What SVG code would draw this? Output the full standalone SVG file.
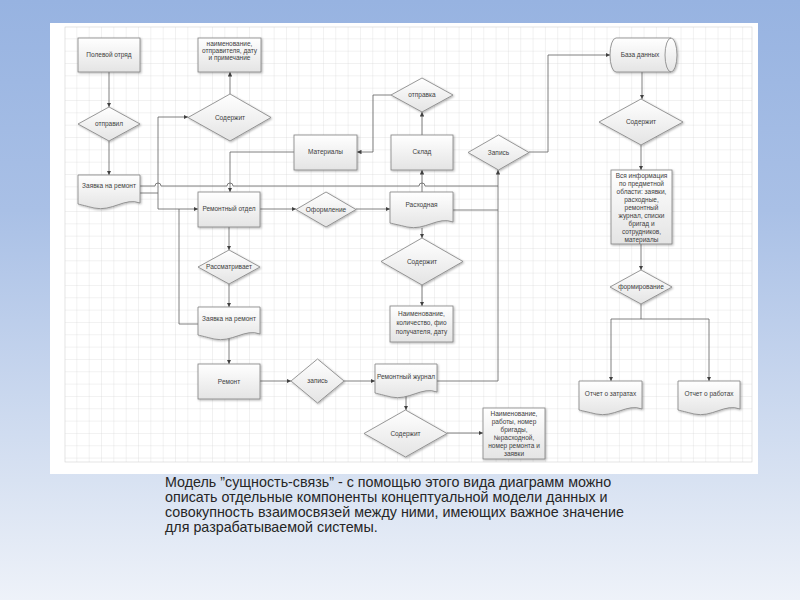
<svg xmlns="http://www.w3.org/2000/svg" width="800" height="600" viewBox="0 0 800 600">
<defs>
<linearGradient id="bg" x1="0" y1="0" x2="0" y2="1">
<stop offset="0" stop-color="#97b3e1"/>
<stop offset="0.35" stop-color="#a9c0e6"/>
<stop offset="0.8" stop-color="#d8e2f2"/>
<stop offset="1" stop-color="#eef2f9"/>
</linearGradient>
<linearGradient id="nf" x1="0" y1="0" x2="0" y2="1">
<stop offset="0" stop-color="#ffffff"/>
<stop offset="1" stop-color="#e4e4e4"/>
</linearGradient>
<pattern id="grid" x="65" y="27" width="12.33" height="12.33" patternUnits="userSpaceOnUse">
<path d="M12.33,0 V12.33 H0" fill="none" stroke="#d2d2d2" stroke-width="0.6"/>
</pattern>
<filter id="sh" x="-20%" y="-20%" width="140%" height="140%">
<feDropShadow dx="1" dy="1" stdDeviation="0.8" flood-color="#000" flood-opacity="0.3"/>
</filter>
<marker id="ar" viewBox="0 0 10 10" refX="10" refY="5" markerWidth="4.5" markerHeight="4.5" orient="auto" markerUnits="userSpaceOnUse">
<path d="M0,0 L10,5 L0,10 Z" fill="#404040"/>
</marker>
<style>
.n{fill:url(#nf);stroke:#808080;stroke-width:0.8;filter:url(#sh)}
.t{font-family:"Liberation Sans",Arial,sans-serif;font-size:6.5px;fill:#404040;text-anchor:middle}
.c{fill:none;stroke:#606060;stroke-width:0.8}
.a{marker-end:url(#ar)}
.cap{font-family:"Liberation Sans",Arial,sans-serif;font-size:14.3px;fill:#262626}
</style>
</defs>
<rect width="800" height="600" fill="url(#bg)"/>
<rect x="50" y="23" width="708" height="451" fill="#ffffff"/>
<rect x="65" y="27" width="687" height="435" fill="url(#grid)" stroke="#d2d2d2" stroke-width="0.6"/>

<g id="connectors">
<path class="c a" d="M109,72 V107"/>
<path class="c a" d="M109,141 V175"/>
<path class="c a" d="M230,94 V72"/>
<path class="c a" d="M140,193 H158 V117 H188"/>
<path class="c a" d="M158,193 V209 H198"/>
<path class="c" d="M198,324 H179 V209"/>
<path class="c" d="M140,186 H155 a3,3 0 0 1 6,0 H227 a3,3 0 0 1 6,0 H419 a3,3 0 0 1 6,0 H498"/>
<path class="c a" d="M294,152 H230 V192"/>
<path class="c a" d="M391,95 H373 V152 H357"/>
<path class="c a" d="M422,135 V112"/>
<path class="c a" d="M422,192 V170"/>
<path class="c a" d="M260,209 H296"/>
<path class="c a" d="M356,209 H390"/>
<path class="c" d="M453,210 H498"/>
<path class="c a" d="M437,381 H498 V170"/>
<path class="c a" d="M529,152 H548 V55 H610"/>
<path class="c a" d="M642,72 V99"/>
<path class="c a" d="M641,145 V170"/>
<path class="c a" d="M641,244 V270"/>
<path class="c" d="M641,304 V319 M611,319 H709"/>
<path class="c a" d="M611,319 V381"/>
<path class="c a" d="M709,319 V381"/>
<path class="c a" d="M422,228 V238"/>
<path class="c a" d="M422,285 V306"/>
<path class="c a" d="M229,227 V250"/>
<path class="c a" d="M229,284 V307"/>
<path class="c a" d="M229,338 V364"/>
<path class="c a" d="M260,381 H291"/>
<path class="c a" d="M344,381 H375"/>
<path class="c a" d="M406,396 V410"/>
<path class="c a" d="M447,433 H483"/>
</g>

<g id="polevoy">
<rect class="n" x="78" y="38" width="62" height="34"/>
<text class="t" x="109" y="57">Полевой отряд</text>
</g>
<g id="naim1">
<rect class="n" x="198" y="38" width="63" height="34"/>
<text class="t" x="229.5" y="46">наименование,</text>
<text class="t" x="229.5" y="53">отправителя, дату</text>
<text class="t" x="229.5" y="60">и примечание</text>
</g>
<g id="otpravil">
<path class="n" d="M109,107 L140,124 L109,141 L78,124 Z"/>
<text class="t" x="109" y="126">отправил</text>
</g>
<g id="soderzhit1">
<path class="n" d="M230,94 L271,117.5 L230,141 L188,117.5 Z"/>
<text class="t" x="230" y="119.5">Содержит</text>
</g>
<g id="zayavka1">
<path class="n" d="M78,175 H140 V203 C125,197 112,212 94,208 C86,206 82,205 78,204 Z"/>
<text class="t" x="109" y="188">Заявка на ремонт</text>
</g>
<g id="otpravka">
<path class="n" d="M422,78 L453,95 L422,112 L391,95 Z"/>
<text class="t" x="422" y="97">отправка</text>
</g>
<g id="materialy">
<rect class="n" x="294" y="135" width="63" height="35"/>
<text class="t" x="325.5" y="154">Материалы</text>
</g>
<g id="sklad">
<rect class="n" x="391" y="135" width="62" height="35"/>
<text class="t" x="422" y="154">Склад</text>
</g>
<g id="zapis1">
<path class="n" d="M498.5,135 L529,152.5 L498.5,170 L468,152.5 Z"/>
<text class="t" x="498.5" y="154.5">Запись</text>
</g>
<g id="baza">
<path class="n" d="M616,38 H671 A6,17 0 0 1 671,72 H616 A6,17 0 0 1 616,38 Z"/>
<path d="M671,38 A6,17 0 0 0 671,72" fill="none" stroke="#808080" stroke-width="0.8"/>
<text class="t" x="640" y="57">База данных</text>
</g>
<g id="soderzhit2">
<path class="n" d="M641,99 L683,122 L641,145 L599,122 Z"/>
<text class="t" x="641" y="124">Содержит</text>
</g>
<g id="vsya">
<rect class="n" x="611" y="170" width="61" height="74"/>
<text class="t" x="641.5" y="178">Вся информация</text>
<text class="t" x="641.5" y="186">по предметной</text>
<text class="t" x="641.5" y="194">области: заявки,</text>
<text class="t" x="641.5" y="202">расходные,</text>
<text class="t" x="641.5" y="210">ремонтный</text>
<text class="t" x="641.5" y="218">журнал, списки</text>
<text class="t" x="641.5" y="226">бригад и</text>
<text class="t" x="641.5" y="234">сотрудников,</text>
<text class="t" x="641.5" y="242">материалы</text>
</g>
<g id="formirovanie">
<path class="n" d="M641,270 L672,287 L641,304 L610,287 Z"/>
<text class="t" x="641" y="289">формирование</text>
</g>
<g id="otchet1">
<path class="n" d="M579,381 H642 V409 C627,403 614,418 596,414 C588,412 583,411 579,410 Z"/>
<text class="t" x="610.5" y="396">Отчет о затратах</text>
</g>
<g id="otchet2">
<path class="n" d="M678,381 H740 V409 C725,403 712,418 694,414 C686,412 682,411 678,410 Z"/>
<text class="t" x="709" y="396">Отчет о работах</text>
</g>
<g id="remotdel">
<rect class="n" x="198" y="192" width="62" height="35"/>
<text class="t" x="229" y="211">Ремонтный отдел</text>
</g>
<g id="oformlenie">
<path class="n" d="M326,192 L356,209.5 L326,227 L296,209.5 Z"/>
<text class="t" x="326" y="211.5">Оформление</text>
</g>
<g id="rashodnaya">
<path class="n" d="M390,192 H453 V222 C438,216 425,231 407,227 C399,225 394,224 390,223 Z"/>
<text class="t" x="421.5" y="207">Расходная</text>
</g>
<g id="soderzhit3">
<path class="n" d="M422,238 L463,261.5 L422,285 L381,261.5 Z"/>
<text class="t" x="422" y="263.5">Содержит</text>
</g>
<g id="naim2">
<rect class="n" x="390" y="306" width="63" height="36"/>
<text class="t" x="421.5" y="316">Наименование,</text>
<text class="t" x="421.5" y="325">количество, фио</text>
<text class="t" x="421.5" y="334">получателя, дату</text>
</g>
<g id="rassmatrivaet">
<path class="n" d="M229,250 L260,267 L229,284 L198,267 Z"/>
<text class="t" x="229" y="269">Рассматривает</text>
</g>
<g id="zayavka2">
<path class="n" d="M198,307 H260 V334 C245,328 232,343 214,339 C206,337 202,336 198,335 Z"/>
<text class="t" x="229" y="321">Заявка на ремонт</text>
</g>
<g id="remont">
<rect class="n" x="198" y="364" width="62" height="35"/>
<text class="t" x="229" y="383.5">Ремонт</text>
</g>
<g id="zapis2">
<path class="n" d="M317.5,359 L344,381 L317.5,403 L291,381 Z"/>
<text class="t" x="317.5" y="383">запись</text>
</g>
<g id="remzhurnal">
<path class="n" d="M375,364 H437 V392 C422,386 409,401 391,397 C383,395 379,394 375,393 Z"/>
<text class="t" x="406" y="379">Ремонтный журнал</text>
</g>
<g id="soderzhit4">
<path class="n" d="M405.5,410 L447,433.5 L405.5,457 L364,433.5 Z"/>
<text class="t" x="405.5" y="435.5">Содержит</text>
</g>
<g id="naim3">
<rect class="n" x="483" y="408" width="62" height="51"/>
<text class="t" x="514" y="416">Наименование,</text>
<text class="t" x="514" y="424">работы, номер</text>
<text class="t" x="514" y="432">бригады,</text>
<text class="t" x="514" y="440">№расходной,</text>
<text class="t" x="514" y="448">номер ремонта и</text>
<text class="t" x="514" y="456">заявки</text>
</g>

<g id="caption">
<text class="cap" x="165" y="487">Модель ”сущность-связь” - с помощью этого вида диаграмм можно</text>
<text class="cap" x="165" y="502">описать отдельные компоненты концептуальной модели данных и</text>
<text class="cap" x="165" y="517">совокупность взаимосвязей между ними, имеющих важное значение</text>
<text class="cap" x="165" y="532">для разрабатываемой системы.</text>
</g>
</svg>
